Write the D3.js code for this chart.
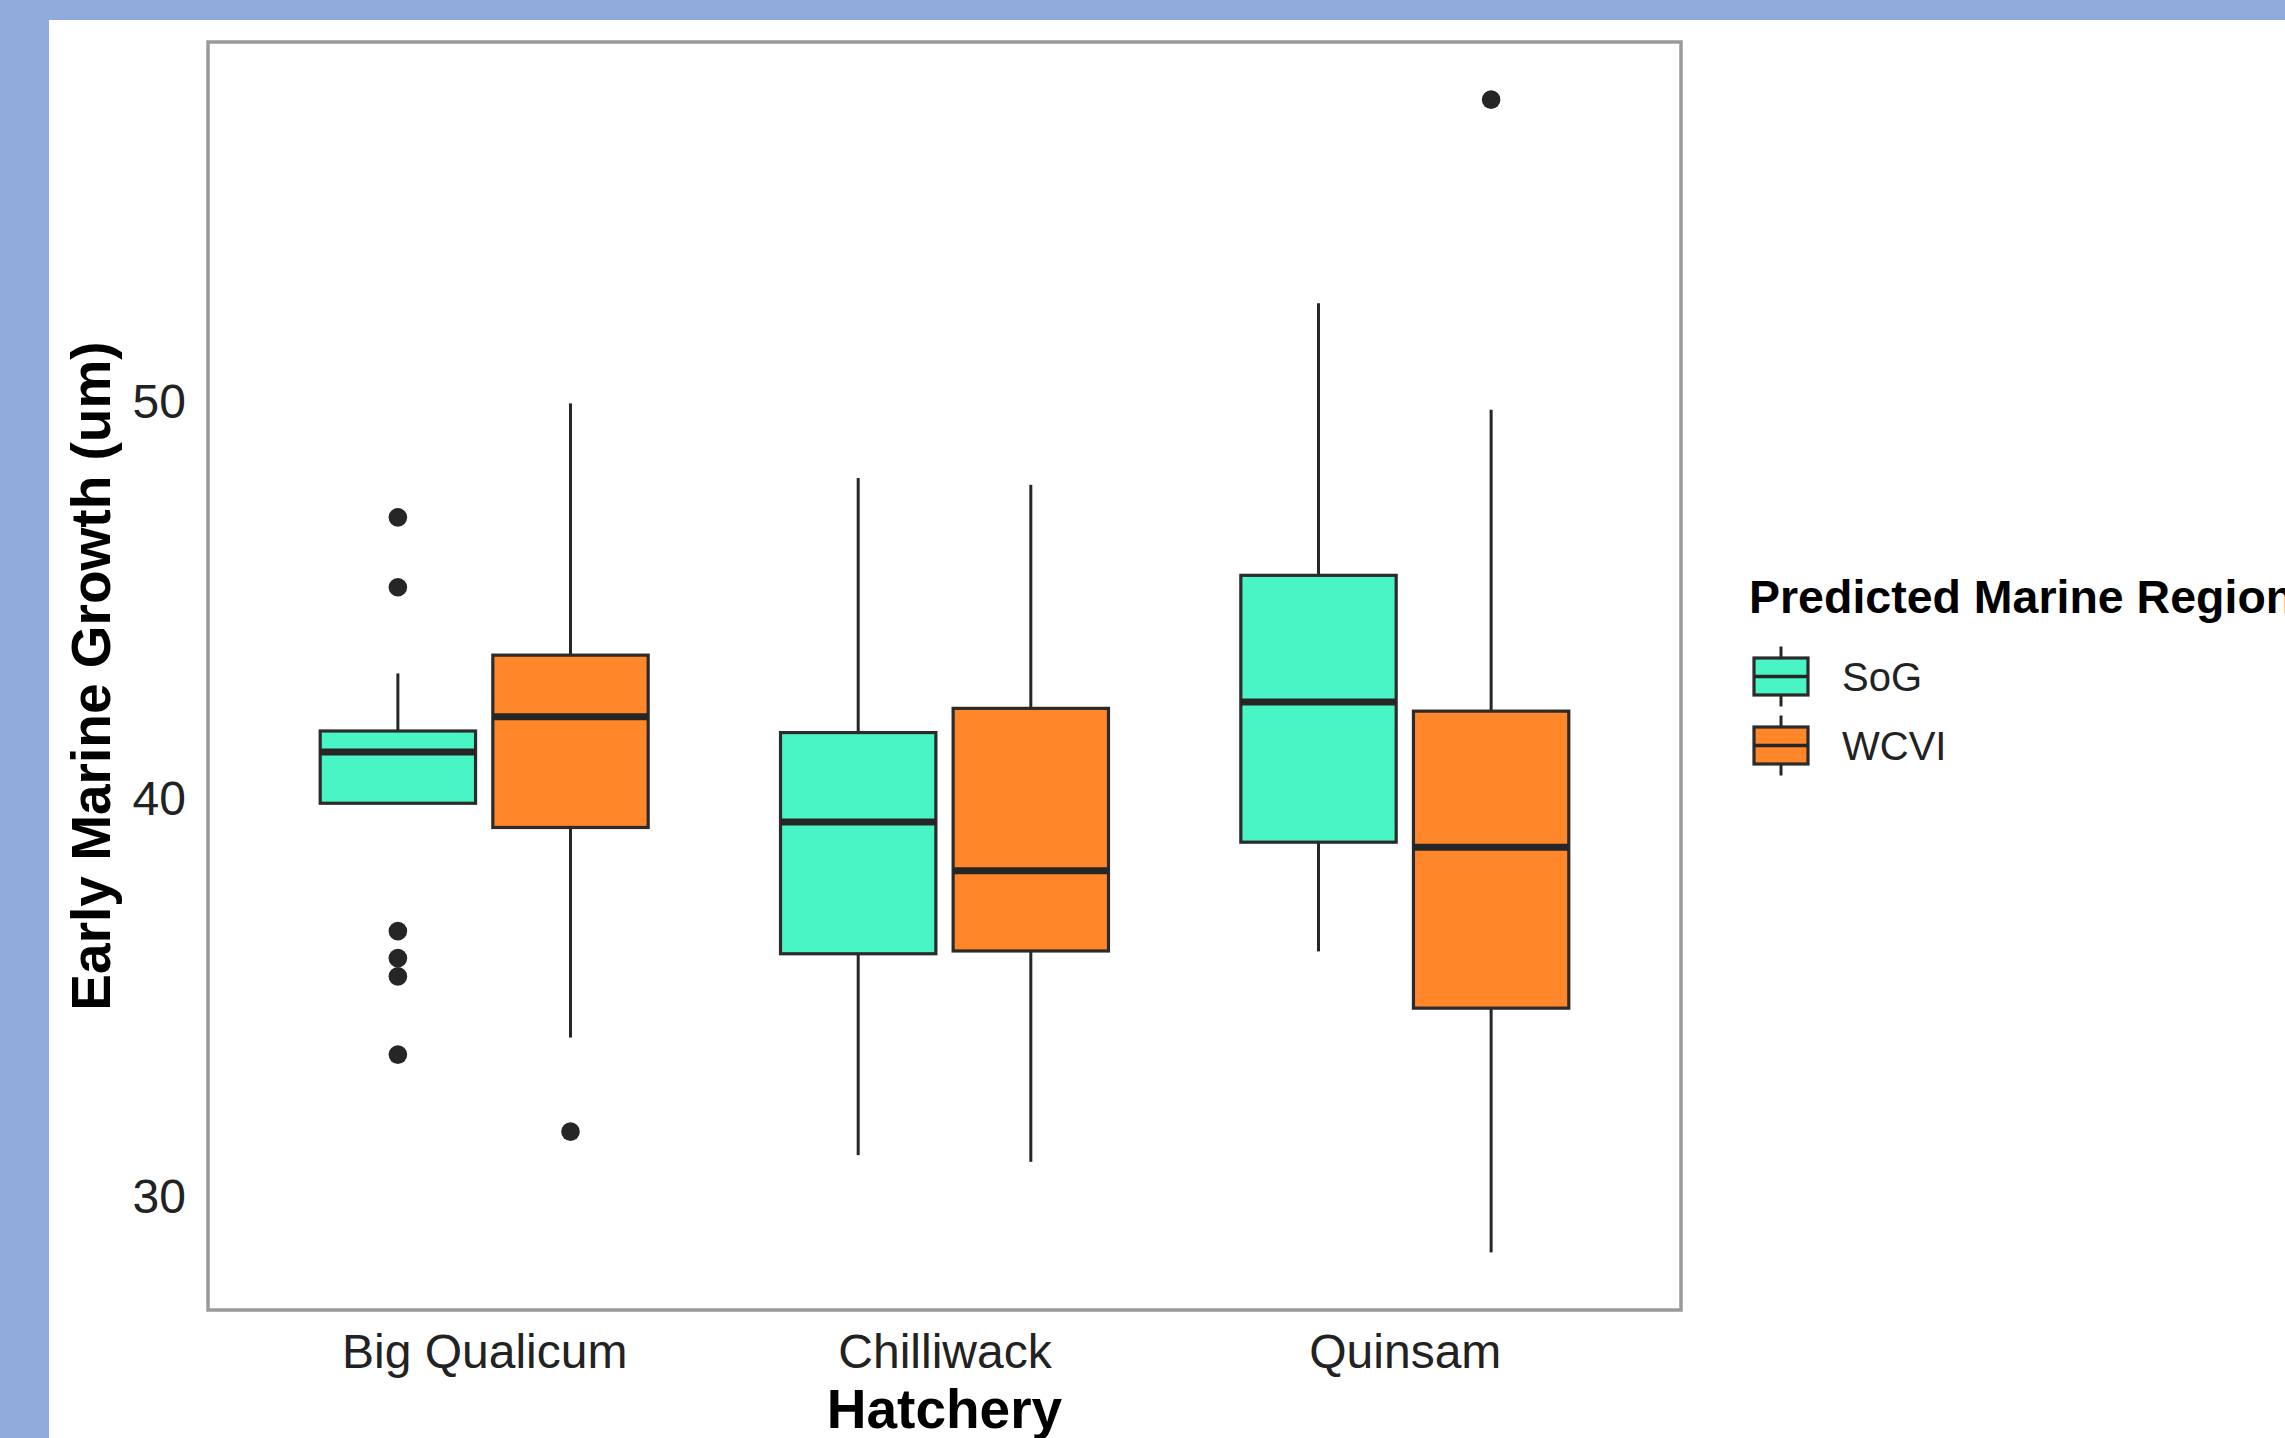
<!DOCTYPE html>
<html>
<head>
<meta charset="utf-8">
<script src="https://cdn.jsdelivr.net/npm/d3@7/dist/d3.min.js"></script>
<style>
  html, body { margin: 0; padding: 0; background: #8FABDC; }
  svg { display: block; }
</style>
</head>
<body>
<script>
// ---- Data ----
const hatcheries = ["Big Qualicum", "Chilliwack", "Quinsam"];
const regions = ["SoG", "WCVI"];
// order: [BQ-SoG, BQ-WCVI, Ch-SoG, Ch-WCVI, Q-SoG, Q-WCVI]
const groupHatchery = ["Big Qualicum", "Big Qualicum", "Chilliwack", "Chilliwack", "Quinsam", "Quinsam"];
const groupRegion   = ["SoG", "WCVI", "SoG", "WCVI", "SoG", "WCVI"];
const whiskerLow  = [39.86, 33.96, 31.00, 30.83, 36.13, 28.55];
const q1          = [39.86, 39.25, 36.07, 36.14, 38.88, 34.70];
const median      = [41.15, 42.04, 39.39, 38.16, 42.41, 38.75];
const q3          = [41.68, 43.59, 41.64, 42.25, 45.60, 42.18];
const whiskerHigh = [43.13, 49.93, 48.05, 47.88, 52.45, 49.77];
const outlierGroup = [0, 0, 0, 0, 0, 0, 1, 5];
const outlierValue = [47.06, 45.30, 36.64, 35.96, 35.50, 33.53, 31.59, 57.58];
const yTicks = [30, 40, 50];
const regionColors = ["#4AF5C5", "#FF8629"];

const W = 2285, H = 1438;
const panel = { left: 208, right: 1681, top: 42, bottom: 1310 };

const svg = d3.select("body").append("svg")
  .attr("width", W).attr("height", H);

// backgrounds
svg.append("rect").attr("x", 0).attr("y", 0).attr("width", W).attr("height", H).attr("fill", "#8FABDC");
svg.append("rect").attr("x", 49).attr("y", 20).attr("width", W - 49).attr("height", H - 20).attr("fill", "#ffffff");

// scales
const x = d3.scalePoint().domain(hatcheries).range([panel.left, panel.right]).padding(0.6);
const step = x.step();
const xSub = d3.scaleBand().domain(regions).range([-0.375 * step, 0.375 * step]);
const boxW = xSub.bandwidth() * 0.9;

const allVals = whiskerLow.concat(whiskerHigh, outlierValue);
const vmin = d3.min(allVals), vmax = d3.max(allVals);
const R = vmax - vmin;
const y = d3.scaleLinear().domain([vmin - 0.05 * R, vmax + 0.05 * R]).range([panel.bottom, panel.top]);
const color = d3.scaleOrdinal().domain(regions).range(regionColors);

const font = "'Liberation Sans', Arial, Helvetica, sans-serif";

// boxes
const groups = d3.range(whiskerLow.length).map(i => ({
  cx: x(groupHatchery[i]) + xSub(groupRegion[i]) + xSub.bandwidth() / 2,
  region: groupRegion[i],
  lo: whiskerLow[i], q1: q1[i], med: median[i], q3: q3[i], hi: whiskerHigh[i]
}));

const g = svg.append("g");
const bg = g.selectAll("g.box").data(groups).join("g").attr("class", "box");
bg.append("line")
  .attr("x1", d => d.cx).attr("x2", d => d.cx)
  .attr("y1", d => y(d.hi)).attr("y2", d => y(d.q3))
  .attr("stroke", "#262626").attr("stroke-width", 3);
bg.append("line")
  .attr("x1", d => d.cx).attr("x2", d => d.cx)
  .attr("y1", d => y(d.q1)).attr("y2", d => y(d.lo))
  .attr("stroke", "#262626").attr("stroke-width", 3);
bg.append("rect")
  .attr("x", d => d.cx - boxW / 2).attr("width", boxW)
  .attr("y", d => y(d.q3)).attr("height", d => y(d.q1) - y(d.q3))
  .attr("fill", d => color(d.region))
  .attr("stroke", "#2b2b2b").attr("stroke-width", 3.2);
bg.append("line")
  .attr("x1", d => d.cx - boxW / 2).attr("x2", d => d.cx + boxW / 2)
  .attr("y1", d => y(d.med)).attr("y2", d => y(d.med))
  .attr("stroke", "#262626").attr("stroke-width", 7);

// outliers
g.selectAll("circle.out").data(outlierValue.map((v, i) => ({ v, gi: outlierGroup[i] })))
  .join("circle").attr("class", "out")
  .attr("cx", d => groups[d.gi].cx).attr("cy", d => y(d.v))
  .attr("r", 9.3).attr("fill", "#262626");

// panel border
svg.append("rect")
  .attr("x", panel.left).attr("y", panel.top)
  .attr("width", panel.right - panel.left).attr("height", panel.bottom - panel.top)
  .attr("fill", "none").attr("stroke", "#999999").attr("stroke-width", 3.5);

// y axis (no tick marks)
const yAxis = d3.axisLeft(y).tickValues(yTicks).tickSize(0).tickPadding(22);
const ya = svg.append("g").attr("transform", `translate(${panel.left},0)`).call(yAxis);
ya.select(".domain").remove();
ya.selectAll("text").attr("font-family", font).attr("font-size", 48).attr("fill", "#222").attr("dy", "0.36em");

// x axis
const xAxis = d3.axisBottom(x).tickSize(0).tickPadding(24);
const xa = svg.append("g").attr("transform", `translate(0,${panel.bottom})`).call(xAxis);
xa.select(".domain").remove();
xa.selectAll("text").attr("font-family", font).attr("font-size", 48).attr("fill", "#222")
  .attr("dy", null).attr("y", 58);

// axis titles
svg.append("text")
  .attr("x", (panel.left + panel.right) / 2).attr("y", 1428)
  .attr("text-anchor", "middle").attr("font-family", font).attr("font-weight", "bold")
  .attr("font-size", 55).attr("fill", "#000").text("Hatchery");
svg.append("text")
  .attr("transform", `translate(110,${(panel.top + panel.bottom) / 2}) rotate(-90)`)
  .attr("text-anchor", "middle").attr("font-family", font).attr("font-weight", "bold")
  .attr("font-size", 55).attr("fill", "#000").text("Early Marine Growth (um)");

// legend
const lg = svg.append("g");
lg.append("text").attr("x", 1749).attr("y", 613)
  .attr("font-family", font).attr("font-weight", "bold").attr("font-size", 46.5)
  .attr("fill", "#000").text("Predicted Marine Region");
const keyCy = [676.5, 745.5];
const keyX0 = 1754, keyX1 = 1808;
const lk = lg.selectAll("g.key").data(regions).join("g").attr("class", "key");
lk.append("line")
  .attr("x1", (keyX0 + keyX1) / 2).attr("x2", (keyX0 + keyX1) / 2)
  .attr("y1", (d, i) => keyCy[i] - 30).attr("y2", (d, i) => keyCy[i] + 30)
  .attr("stroke", "#262626").attr("stroke-width", 3);
lk.append("rect")
  .attr("x", keyX0).attr("width", keyX1 - keyX0)
  .attr("y", (d, i) => keyCy[i] - 18.5).attr("height", 37)
  .attr("fill", d => color(d)).attr("stroke", "#2b2b2b").attr("stroke-width", 3.2);
lk.append("line")
  .attr("x1", keyX0).attr("x2", keyX1)
  .attr("y1", (d, i) => keyCy[i]).attr("y2", (d, i) => keyCy[i])
  .attr("stroke", "#262626").attr("stroke-width", 3.5);
lk.append("text")
  .attr("x", 1842).attr("y", (d, i) => keyCy[i] + 14)
  .attr("font-family", font).attr("font-size", 40).attr("fill", "#222")
  .text(d => d);
</script>
</body>
</html>
